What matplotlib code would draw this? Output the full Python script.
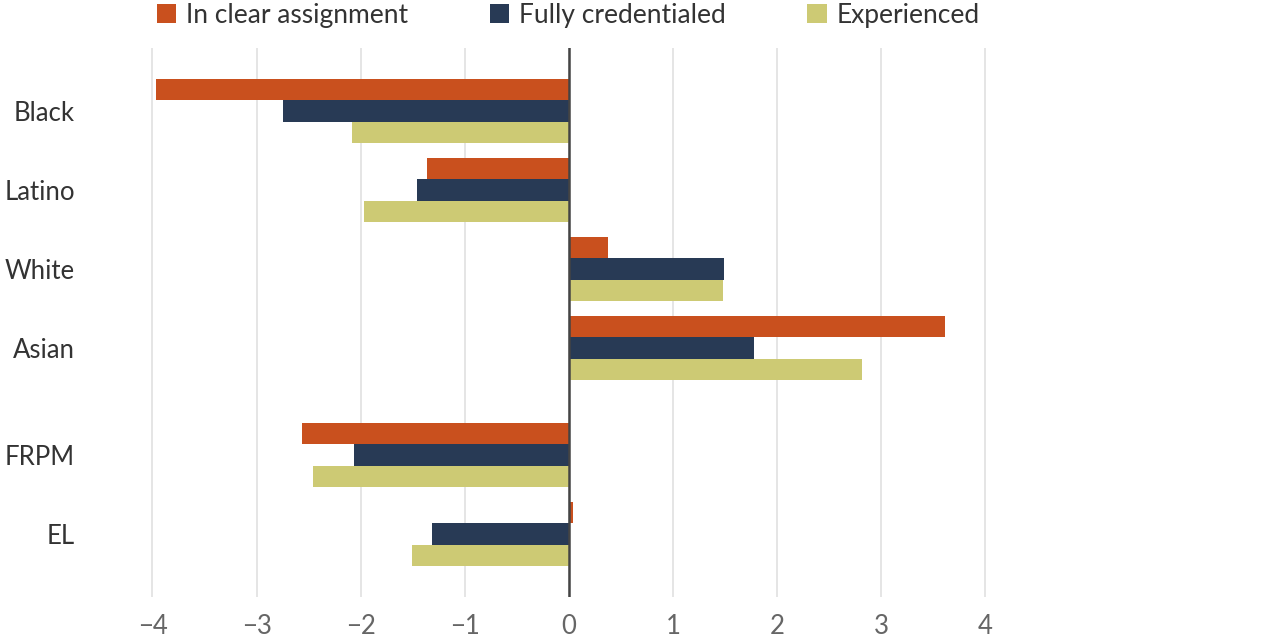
import numpy as np
import matplotlib
matplotlib.use("Agg")
import matplotlib.pyplot as plt

plt.rcParams['font.family'] = ['Lato', 'DejaVu Sans']

groups = ["Black", "Latino", "White", "Asian", "FRPM", "EL"]
clear_assignment = [-3.97, -1.36, 0.38, 3.61, -2.56, 0.04]
fully_credentialed = [-2.75, -1.46, 1.49, 1.78, -2.06, -1.31]
experienced = [-2.08, -1.97, 1.48, 2.82, -2.46, -1.51]

series = ["In clear assignment", "Fully credentialed", "Experienced"]
colors = ["#C9501E", "#283A55", "#CDCA74"]

# extra gap before FRPM / EL
ypos = np.array([0, 1, 2, 3, 4.35, 5.35])
h = 0.272

fig = plt.figure(figsize=(12.8, 6.4), dpi=100)
ax = fig.add_axes([140 / 1280, 1 - 597 / 640, 1120 / 1280, 549 / 640])

for i, (vals, c, name) in enumerate(zip([clear_assignment, fully_credentialed, experienced], colors, series)):
    ax.barh(ypos + (i - 1) * h, vals, height=h, color=c, label=name, zorder=3)

ax.axvline(0, color="#444444", lw=1.8, zorder=4)
ax.set_xlim(-4.12, 6.64)
ax.set_ylim(6.15, -0.80)
ax.set_xticks(range(-4, 5))
ax.set_xticklabels([str(t).replace("-", "\u2212") for t in range(-4, 5)])
ax.set_yticks(ypos)
ax.set_yticklabels(groups)
ax.grid(axis="x", color="#e3e3e3", lw=1.3, zorder=0)
for s in ax.spines.values():
    s.set_visible(False)
ax.tick_params(axis="x", length=0, labelsize=18.5, colors="#666666", pad=12)
ax.tick_params(axis="y", length=0, labelsize=18.5, colors="#333333", pad=47)

fig.legend(loc="center", bbox_to_anchor=(568 / 1280, 1 - 15 / 640), ncol=3,
           frameon=False, fontsize=19, handlelength=0.75, handleheight=0.75,
           handletextpad=0.35, columnspacing=3.1, labelcolor="#333333")

fig.savefig("out.png", dpi=100)
